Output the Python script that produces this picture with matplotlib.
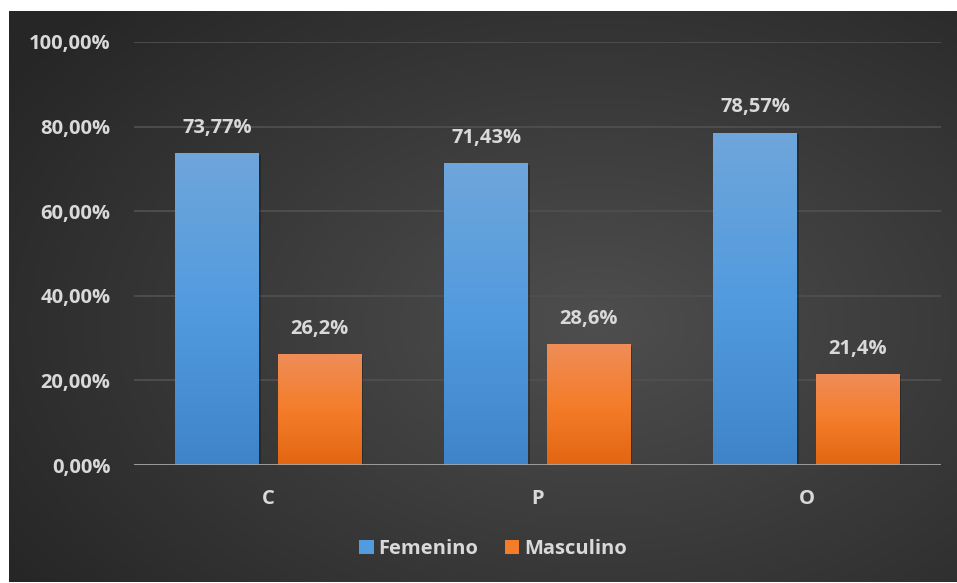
import numpy as np
import matplotlib
matplotlib.use("Agg")
import matplotlib.pyplot as plt
from matplotlib.colors import LinearSegmentedColormap
from matplotlib.patches import Rectangle, Patch

categories = ["C", "P", "O"]
femenino = [73.77, 71.43, 78.57]
masculino = [26.2, 28.6, 21.4]
fem_labels = ["73,77%", "71,43%", "78,57%"]
masc_labels = ["26,2%", "28,6%", "21,4%"]
yticks = [0, 20, 40, 60, 80, 100]
ytick_labels = ["0,00%", "20,00%", "40,00%", "60,00%", "80,00%", "100,00%"]

plt.rcParams["font.family"] = ["Open Sans", "DejaVu Sans"]
plt.rcParams["font.weight"] = "bold"
text_color = "#d9d9d9"
fsize = 14.5

fig = plt.figure(figsize=(9.57, 5.83), dpi=100, facecolor="white")

# dark panel with a soft radial light
bg = fig.add_axes([9 / 957, 1 / 583, 948 / 957, 571 / 583])
bg.set_axis_off()
gx, gy = np.meshgrid(np.linspace(0, 1, 400), np.linspace(0, 1, 250))
r = np.sqrt(((gx - 0.62) / 0.75) ** 2 + ((gy - 0.55) / 0.8) ** 2)
shade = np.clip(1 - r, 0, 1)
bg_cmap = LinearSegmentedColormap.from_list("bg", ["#262626", "#4e4e4e"])
bg.imshow(shade, cmap=bg_cmap, aspect="auto", extent=[0, 1, 0, 1], vmin=0, vmax=1)

ax = fig.add_axes([134 / 957, 118 / 583, 807 / 957, 423 / 583])
ax.patch.set_alpha(0)
ax.set_xlim(-0.5, len(categories) - 0.5)
ax.set_ylim(0, 100)
for s in ax.spines.values():
    s.set_visible(False)

for t in yticks[1:]:
    ax.axhline(t, color="#4f4f4f", lw=1.3, zorder=1)
ax.axhline(0, color="#a6a6a6", lw=2, zorder=4)

blue_cmap = LinearSegmentedColormap.from_list("blue", ["#3f84c8", "#529bdf", "#6fa6da"])
orange_cmap = LinearSegmentedColormap.from_list("orange", ["#e36612", "#f47d2a", "#ef8d58"])
grad = np.linspace(0, 1, 256).reshape(-1, 1)

width = 0.312
offset = 0.19


def gradient_bar(x, h, cmap):
    # drop shadow, then the gradient fill clipped to the bar
    ax.add_patch(Rectangle((x - width / 2 + 0.006, 0), width, h - 0.4,
                           facecolor="black", alpha=0.25, lw=0, zorder=2))
    rect = Rectangle((x - width / 2, 0), width, h, facecolor="none", lw=0, zorder=3)
    ax.add_patch(rect)
    im = ax.imshow(grad, cmap=cmap, origin="lower", aspect="auto",
                   extent=[x - width / 2, x + width / 2, 0, h], zorder=3)
    im.set_clip_path(rect)


x = np.arange(len(categories))
for i in range(len(categories)):
    gradient_bar(x[i] - offset, femenino[i], blue_cmap)
    gradient_bar(x[i] + offset, masculino[i], orange_cmap)
    ax.annotate(fem_labels[i], (x[i] - offset, femenino[i]), xytext=(0, 11),
                textcoords="offset points", ha="center", va="bottom",
                color=text_color, fontsize=fsize, fontweight="bold")
    ax.annotate(masc_labels[i], (x[i] + offset, masculino[i]), xytext=(0, 11),
                textcoords="offset points", ha="center", va="bottom",
                color=text_color, fontsize=fsize, fontweight="bold")

ax.set_xlim(-0.5, len(categories) - 0.5)
ax.set_ylim(0, 100)
ax.set_yticks(yticks)
ax.set_yticklabels(ytick_labels)
ax.set_xticks(x)
ax.set_xticklabels(categories)
ax.tick_params(axis="both", length=0, colors=text_color, labelsize=fsize)
ax.tick_params(axis="y", pad=17)
ax.tick_params(axis="x", pad=17)
for lbl in ax.get_xticklabels() + ax.get_yticklabels():
    lbl.set_fontweight("bold")

handles = [Patch(facecolor="#529bdf", label="Femenino"),
           Patch(facecolor="#f47d2a", label="Masculino")]
leg = fig.legend(handles=handles, loc="center", bbox_to_anchor=(493 / 957, 1 - 549 / 583),
                 ncol=2, frameon=False, handlelength=0.7, handleheight=0.7,
                 handletextpad=0.25, columnspacing=1.3,
                 prop={"size": fsize, "weight": "bold"})
for t in leg.get_texts():
    t.set_color(text_color)

fig.savefig("out.png", dpi=100, facecolor="white")
